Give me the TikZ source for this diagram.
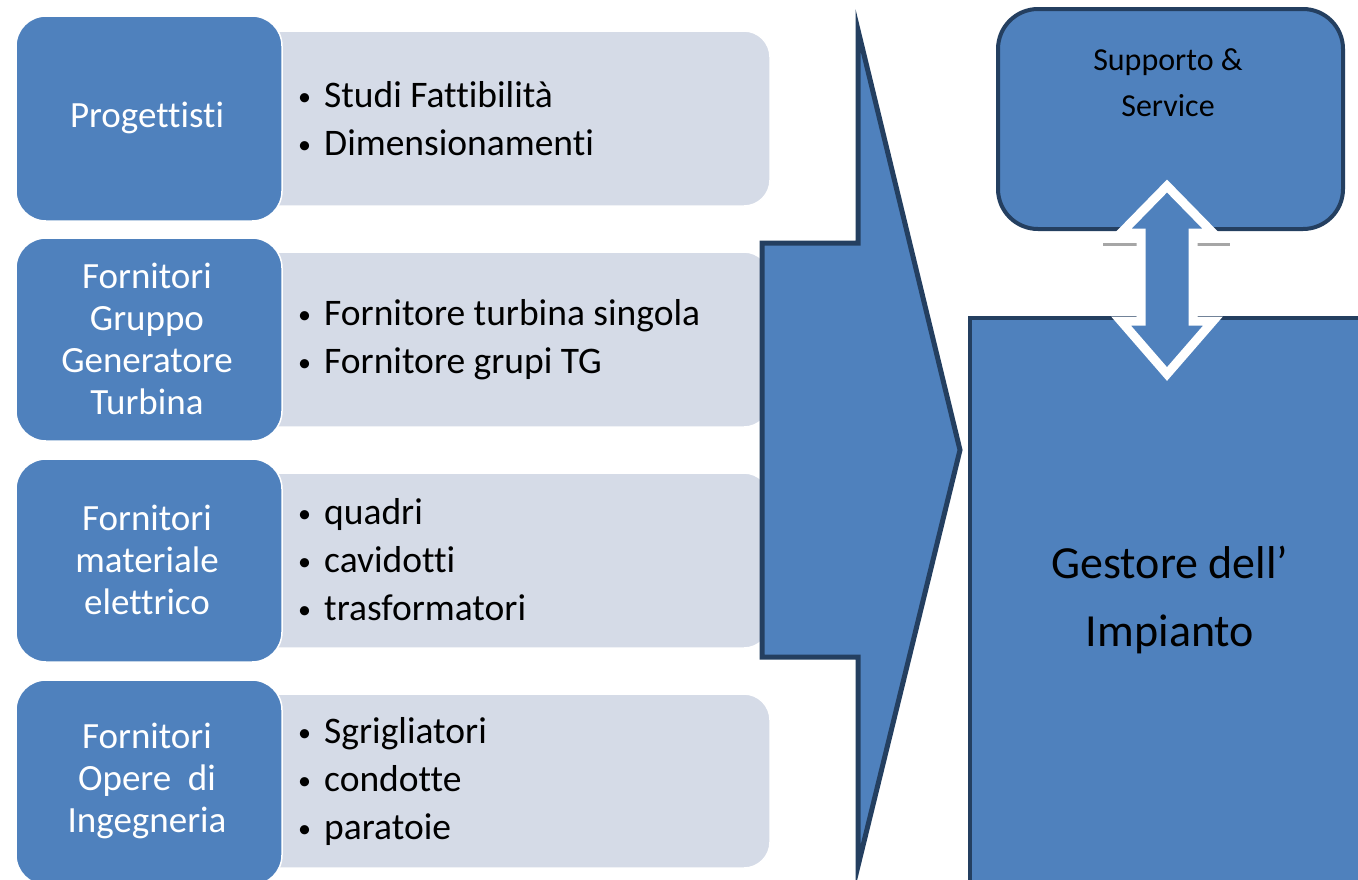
\documentclass[tikz,border=0pt]{standalone}
\usepackage{fontspec}
\setmainfont{Carlito}[Ligatures=NoCommon]
\definecolor{boxblue}{HTML}{4F81BD}
\definecolor{darkedge}{HTML}{243F60}
\definecolor{lightbox}{HTML}{D5DBE7}
\newcommand\myblt{\makebox[26pt][l]{\raisebox{2pt}{\fontsize{26}{26}\selectfont\textbullet}}}
\begin{document}
\begin{tikzpicture}[x=1pt,y=-1pt,
  bluebox/.style={fill=boxblue,draw=white,line width=1.5pt,rounded corners=30pt},
  greybox/.style={fill=lightbox,draw=white,line width=1.5pt,rounded corners=26pt},
  bluetext/.style={text=white,align=center,font=\fontsize{37}{42}\selectfont},
  listtext/.style={text=black,align=left,anchor=west,font=\fontsize{37.5}{48}\selectfont,inner sep=0pt},
  bigshape/.style={fill=boxblue,draw=darkedge,line width=5pt,line join=miter}
]
\useasboundingbox (0,0) rectangle (1358,879);
\clip (0,0) rectangle (1358,879);
\fill[white] (0,0) rectangle (1358,879);

% grey list boxes
\draw[greybox] (250,31) rectangle (770,206);
\draw[greybox] (250,252) rectangle (770,427);
\draw[greybox] (250,473) rectangle (770,648);
\draw[greybox] (250,694) rectangle (770,868);

% blue category boxes
\draw[bluebox] (16,16) rectangle (282,221);
\draw[bluebox] (16,238) rectangle (282,441);
\draw[bluebox] (16,459) rectangle (282,662);
\draw[bluebox] (16,680) rectangle (282,885);

\node[bluetext] (c1) at (147,118) {Progettisti};
\node[bluetext] (c2) at (147,339) {Fornitori\\Gruppo\\Generatore\\Turbina};
\node[bluetext] (c3) at (147,560) {Fornitori\\materiale\\elettrico};
\node[bluetext] (c4) at (147,781) {Fornitori\\Opere\ \ di\\Ingegneria};

\node[listtext] (l1) at (298,119) {\myblt Studi Fattibilità\\\myblt Dimensionamenti};
\node[listtext] (l2) at (298,340) {\myblt Fornitore turbina singola\\\myblt Fornitore grupi TG};
\node[listtext] (l3) at (298,560) {\myblt quadri\\\myblt cavidotti\\\myblt trasformatori};
\node[listtext] (l4) at (298,781) {\myblt Sgrigliatori\\\myblt condotte\\\myblt paratoie};

% big arrow
\draw[bigshape] (762,243) -- (858,243) -- (858,30) -- (960,450) -- (858,866) -- (858,657) -- (762,657) -- cycle;

% support box
\draw[fill=boxblue,draw=darkedge,line width=4pt,rounded corners=40pt] (998,9) rectangle (1343,229);
\node[text=black,align=center,font=\fontsize{32}{46}\selectfont] (sup) at (1168,83) {Supporto \&\\Service};

% gestore box
\draw[fill=boxblue,draw=darkedge,line width=4pt] (970,318) rectangle (1420,940);
\node[text=black,align=center,font=\fontsize{46}{68}\selectfont] (ges) at (1170,600) {Gestore dell’\\Impianto};

% shadow marks
\draw[gray!70,line width=3pt] (1103,244) -- (1138,244);
\draw[gray!70,line width=3pt] (1196,244) -- (1230,244);

% double arrow
\draw[fill=boxblue,draw=white,line width=9pt,line join=miter]
  (1167,186) -- (1213,233) -- (1193,233) -- (1193,321) -- (1213,321) -- (1167,374)
  -- (1121,321) -- (1141,321) -- (1141,233) -- (1121,233) -- cycle;
\end{tikzpicture}
\end{document}
